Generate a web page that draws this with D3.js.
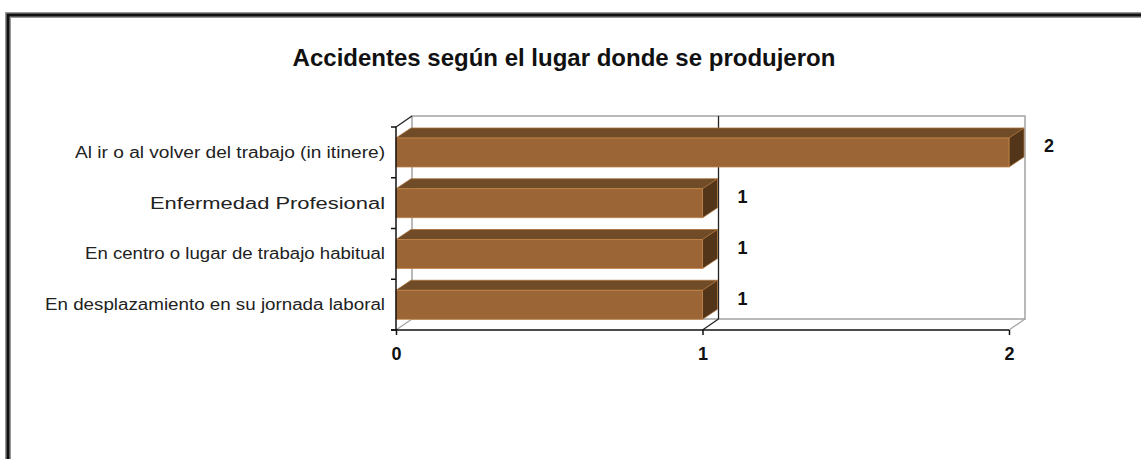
<!DOCTYPE html>
<html>
<head>
<meta charset="utf-8">
<script src="https://cdn.jsdelivr.net/npm/d3@7"></script>
<style>
  html, body { margin: 0; padding: 0; background: #fff; }
  svg { display: block; }
  text { font-family: "Liberation Sans", Arial, sans-serif; }
</style>
</head>
<body>
<svg id="chart" width="1141" height="459"></svg>
<script>
const categories = [
  'Al ir o al volver del trabajo (in itinere)',
  'Enfermedad Profesional',
  'En centro o lugar de trabajo habitual',
  'En desplazamiento en su jornada laboral'
];
const values = [2, 1, 1, 1];
const xTicks = [0, 1, 2];
const labelWidths = [310, 235, 300, 340];   // widths of the category texts as drawn

const svg = d3.select('#chart');

// frame: only the top and left edges are visible
svg.append('path')
  .attr('d', 'M8,470 L8,15 L1150,15')
  .attr('fill', 'none')
  .attr('stroke', '#9a9a9a')
  .attr('stroke-width', 6);
svg.append('path')
  .attr('d', 'M8,470 L8,15 L1150,15')
  .attr('fill', 'none')
  .attr('stroke', '#111')
  .attr('stroke-width', 3);

svg.append('text')
  .attr('x', 564)
  .attr('y', 66)
  .attr('text-anchor', 'middle')
  .style('font-size', '24px')
  .style('font-weight', 'bold')
  .attr('fill', '#111')
  .text('Accidentes según el lugar donde se produjeron');

const x = d3.scaleLinear().domain([0, 2]).range([396, 1009]);
const y = d3.scaleBand().domain(categories).range([127, 330]).padding(0);

// depth of the 3d box and of each bar
const dx = 16, dy = -11;
const bdx = 15, bdy = -10;

const y0 = y.range()[0], y1 = y.range()[1];

// back wall
svg.append('rect')
  .attr('x', x(0) + dx)
  .attr('y', y0 + dy)
  .attr('width', x(2) - x(0))
  .attr('height', y1 - y0)
  .attr('fill', '#fff')
  .attr('stroke', '#a3a3a3')
  .attr('stroke-width', 1.5);

// grid on the back wall and floor
const grid = svg.append('g');
xTicks.forEach(t => {
  const inner = t > 0 && t < 2;
  grid.append('line')
    .attr('x1', x(t)).attr('y1', y1)
    .attr('x2', x(t) + dx).attr('y2', y1 + dy)
    .attr('stroke', inner ? '#222' : '#a3a3a3')
    .attr('stroke-width', 1.3);
  if (inner) {
    grid.append('line')
      .attr('x1', x(t) + dx).attr('y1', y0 + dy)
      .attr('x2', x(t) + dx).attr('y2', y1 + dy)
      .attr('stroke', '#222')
      .attr('stroke-width', 1.3);
  }
});

// left wall top edge
svg.append('line')
  .attr('x1', x(0)).attr('y1', y0)
  .attr('x2', x(0) + dx).attr('y2', y0 + dy)
  .attr('stroke', '#222')
  .attr('stroke-width', 1.3);

// bars
const bars = svg.append('g')
  .selectAll('g')
  .data(categories.map((c, i) => ({c, v: values[i]})))
  .join('g');

const faceTop = d => y(d.c) + 11;
const faceH = 29;

bars.append('path')
  .attr('d', d => {
    const xa = x(0), xb = x(d.v), yt = faceTop(d);
    return `M${xa},${yt} L${xa + bdx},${yt + bdy} L${xb + bdx},${yt + bdy} L${xb},${yt} Z`;
  })
  .attr('fill', '#6f4b27')
  .attr('stroke', '#a86e3a')
  .attr('stroke-width', 0.8);

bars.append('path')
  .attr('d', d => {
    const xb = x(d.v), yt = faceTop(d);
    return `M${xb},${yt} L${xb + bdx},${yt + bdy} L${xb + bdx},${yt + bdy + faceH} L${xb},${yt + faceH} Z`;
  })
  .attr('fill', '#533619')
  .attr('stroke', '#a86e3a')
  .attr('stroke-width', 0.8);

bars.append('rect')
  .attr('x', x(0))
  .attr('y', faceTop)
  .attr('width', d => x(d.v) - x(0))
  .attr('height', faceH)
  .attr('fill', '#9b6535')
  .attr('stroke', '#c4864a')
  .attr('stroke-width', 0.8);

bars.append('text')
  .attr('x', d => x(d.v) + 35)
  .attr('y', d => y(d.c) + 19)
  .attr('dy', '0.35em')
  .attr('text-anchor', 'start')
  .style('font-size', '18px')
  .style('font-weight', 'bold')
  .attr('fill', '#111')
  .text(d => d.v);

// left axis
const yAxis = svg.append('g');
yAxis.append('line')
  .attr('x1', x(0)).attr('y1', y0)
  .attr('x2', x(0)).attr('y2', y1)
  .attr('stroke', '#111')
  .attr('stroke-width', 1.5);
yAxis.selectAll('line.tick')
  .data(categories.map(c => y(c)).concat([y1]))
  .join('line')
  .attr('class', 'tick')
  .attr('x1', x(0) - 5).attr('x2', x(0))
  .attr('y1', d => d).attr('y2', d => d)
  .attr('stroke', '#111')
  .attr('stroke-width', 1.5);
yAxis.selectAll('text')
  .data(categories)
  .join('text')
  .attr('x', 385)
  .attr('y', d => y(d) + y.bandwidth() / 2)
  .attr('dy', '0.35em')
  .attr('text-anchor', 'end')
  .style('font-size', '16px')
  .attr('fill', '#222')
  .attr('textLength', (d, i) => labelWidths[i])
  .attr('lengthAdjust', 'spacingAndGlyphs')
  .text(d => d);

// bottom axis
const xAxis = svg.append('g')
  .attr('transform', `translate(0,${y1})`)
  .call(d3.axisBottom(x).tickValues(xTicks).tickFormat(d3.format('d')).tickSize(5).tickPadding(12));
xAxis.select('.domain')
  .attr('d', `M${x(0) - 5},0 H${x(2)}`)
  .attr('stroke', '#111')
  .attr('stroke-width', 1.5);
xAxis.selectAll('.tick line').attr('stroke', '#111').attr('stroke-width', 1.5);
xAxis.selectAll('.tick text')
  .style('font-size', '18px')
  .style('font-weight', 'bold')
  .style('font-family', '"Liberation Sans", Arial, sans-serif')
  .attr('fill', '#111');
</script>
</body>
</html>
